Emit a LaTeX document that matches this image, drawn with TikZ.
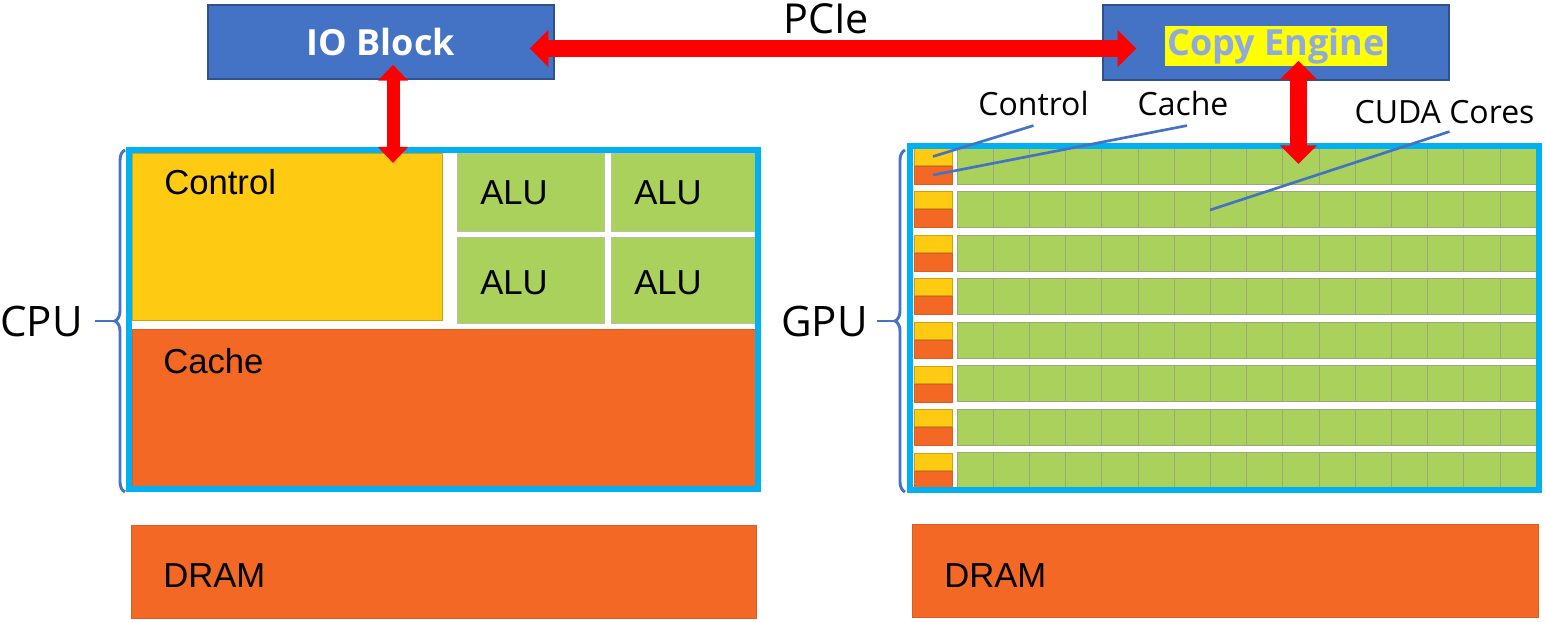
\documentclass[tikz,border=0pt]{standalone}
\usepackage{fontspec}
\setmainfont{Liberation Sans}
\newfontfamily\labfont{Open Sans}
\usepackage{tikz}
\usetikzlibrary{arrows.meta, calc, decorations.pathreplacing}
\definecolor{ioblue}{HTML}{4472C4}
\definecolor{ioedge}{HTML}{2F528F}
\definecolor{chipcyan}{HTML}{00B0F0}
\definecolor{ctlyellow}{HTML}{FFCB12}
\definecolor{cacheorange}{HTML}{F26824}
\definecolor{alugreen}{HTML}{A9D15B}
\definecolor{gridgray}{HTML}{9AA87C}
\definecolor{cefont}{HTML}{8FAADC}
\definecolor{hiyellow}{HTML}{FFFF00}

\begin{document}
\begin{tikzpicture}[x=0.75pt,y=0.75pt,yscale=-1,xscale=1,
  blockbox/.style={fill=ioblue, draw=ioedge, line width=1.1pt, inner sep=0pt},
  chipbox/.style={draw=chipcyan, line width=4.5pt, inner sep=0pt},
  ctlfill/.style={fill=ctlyellow, draw=ctlyellow!80!black, line width=0.5pt},
  cachefill/.style={fill=cacheorange, draw=cacheorange!90!black, line width=0.5pt},
  alufill/.style={fill=alugreen, draw=gridgray!70, line width=0.6pt},
  corecell/.style={fill=alugreen, draw=gridgray, line width=0.75pt},
  busarrow/.style={draw=red, line width=12.75pt, arrows={Triangle[width=27pt,length=14pt]-Triangle[width=27pt,length=14pt]}},
  leader/.style={draw=ioblue, line width=2pt},
  curly/.style={draw=ioblue, line width=2.2pt, decorate, decoration={brace, amplitude=7.5pt}},
  intext/.style={font=\fontsize{26}{30}\selectfont, inner sep=0pt, anchor=base west},
  outtext/.style={font=\labfont\fontsize{24}{28}\selectfont, inner sep=0pt, anchor=base},
  bigtext/.style={font=\labfont\fontsize{31.5}{36}\selectfont, inner sep=0pt, anchor=east},
]
\path[use as bounding box] (0,0) rectangle (1545,621);

%Shape: CPU inside
\draw[ctlfill] (132,153) rectangle (442,320);
\draw[alufill] (457,153) rectangle (604,231);
\draw[alufill] (611,153) rectangle (757,231);
\draw[alufill] (457,237) rectangle (604,323);
\draw[alufill] (611,237) rectangle (757,323);
\draw[cachefill] (132,329) rectangle (757,486);
% Text Node
\node (cctl) [intext] at (164,194) {Control};
\node (alua) [intext] at (480,204) {ALU};
\node (alub) [intext] at (634,204) {ALU};
\node (aluc) [intext] at (480,294) {ALU};
\node (alud) [intext] at (634,294) {ALU};
\node (ccache) [intext] at (163,373) {Cache};
%Shape: CPU frame
\node (cpu) [chipbox, minimum width=471.4pt, minimum height=253.9pt] at (443.25,319.25) {};

%Shape: GPU rows
\foreach \r in {0,...,7}{
  \draw[ctlfill] (914,148+43.57*\r) rectangle ++(38,17);
  \draw[cachefill] (914,166+43.57*\r) rectangle ++(38,18);
  \foreach \c in {0,...,15}
    \draw[corecell] (957+36.2*\c,148+43.57*\r) rectangle ++(36.2,36);
}
\coordinate (gctl) at (933,156.5);
\coordinate (gcache) at (933,175);
\coordinate (gcore) at (1210,210);
%Shape: GPU frame
\node (gpu) [chipbox, minimum width=471.75pt, minimum height=258pt] at (1224.5,318) {};

%Shape: DRAM
\draw[cachefill] (131,525) rectangle (756,618);
\draw[cachefill] (912,524) rectangle (1538,617);
\node (cdram) [intext] at (163,587) {DRAM};
\node (gdram) [intext] at (944,587) {DRAM};

%Shape: IO Block and Copy Engine
\node (io) [blockbox, minimum width=259.5pt, minimum height=55.5pt, text=white, font=\labfont\bfseries\fontsize{27}{30}\selectfont] at (381,42) {IO Block};
\node (ce) [blockbox, minimum width=259.5pt, minimum height=56.25pt] at (1276,42.5) {};
\node (cetext) [fill=hiyellow, text=cefont, inner xsep=1.5pt, inner ysep=1.5pt, font=\labfont\bfseries\fontsize{27}{30}\selectfont] at (1276,46) {Copy Engine};
\node (pcie) [outtext, font=\labfont\fontsize{31}{34}\selectfont] at (826,33) {PCIe};

% Braces
\draw[curly] (125,492) -- (125,150);
\coordinate (cputip) at (115,321);
\node (cpulab) [bigtext] at (83,321) {CPU};
\draw[leader] (cputip) -- ($(cpulab.east)+(12,0)$);
\draw[curly] (905,492) -- (905,150);
\coordinate (gputip) at (895,321);
\node (gpulab) [bigtext] at (868,321) {GPU};
\draw[leader] (gputip) -- ($(gpulab.east)+(9,0)$);

% Labels
\node (lctl) [outtext] at (1033.5,115) {Control};
\node (lcache) [outtext] at (1183,115) {Cache};
\node (lcore) [outtext] at (1444.5,123) {CUDA Cores};
\draw[leader] ($(lctl.south)+(0,10)$) -- (gctl);
\draw[leader] ($(lcache.south)+(4,10)$) -- (gcache);
\draw[leader] ($(lcore.south)+(5,8)$) -- (gcore);

% Arrows
\draw[busarrow] ($(io.east)+(-25,6.5)$) -- ($(ce.west)+(34,6)$);
\draw[busarrow, line width=9.75pt, arrows={Triangle[width=22pt,length=12pt]-Triangle[width=22pt,length=12pt]}] ($(io.south)+(12,-15)$) coordinate (iod) -- (iod |- cpu.north) [shorten >=-12pt];
\draw[busarrow] ($(ce.south)+(22.5,-20)$) coordinate (ced) -- (ced |- gpu.north) [shorten >=-15.75pt];

\end{tikzpicture}
\end{document}
